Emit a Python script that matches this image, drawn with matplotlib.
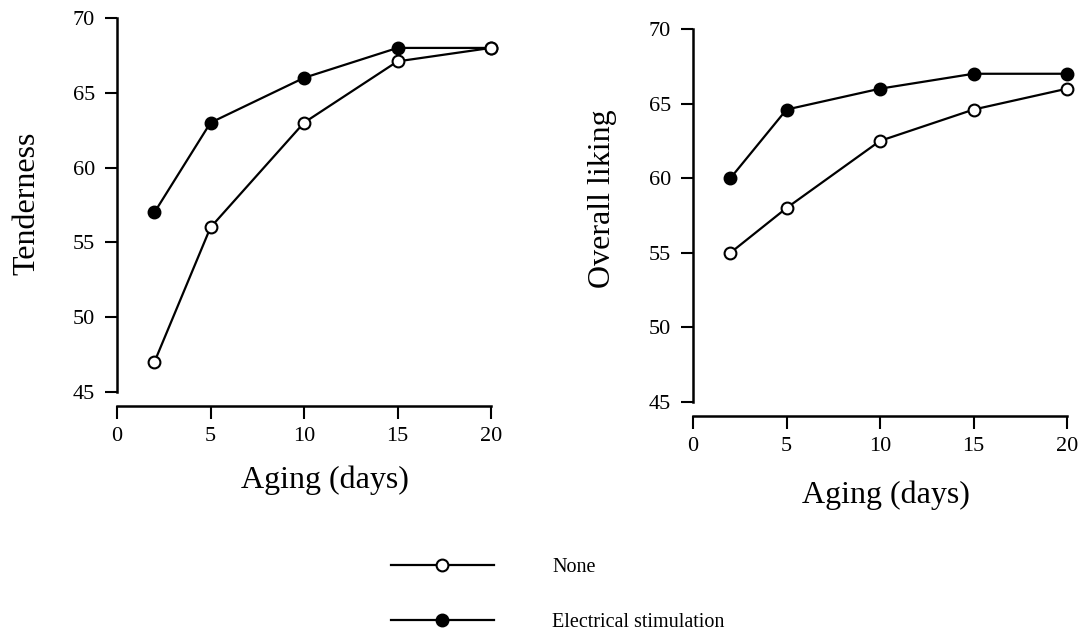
import matplotlib
matplotlib.use('Agg')
import matplotlib.pyplot as plt
from matplotlib.lines import Line2D

plt.rcParams['font.family'] = ['Liberation Serif', 'DejaVu Serif']

days = [2, 5, 10, 15, 20]
tender_none = [47, 56, 63, 67.1, 68]
tender_es = [57, 63, 66, 68, 68]
liking_none = [55, 58, 62.5, 64.6, 66]
liking_es = [60, 64.6, 66, 67, 67]
xticks = [0, 5, 10, 15, 20]
yticks = [45, 50, 55, 60, 65, 70]
series_names = ['None', 'Electrical stimulation']

fig = plt.figure(figsize=(10.79, 6.39), dpi=100)

def panel(rect, none_vals, es_vals, ylabel, xlab_pos, ylab_pos):
    ax = fig.add_axes(rect)
    ax.plot(days, es_vals, '-o', color='black', lw=1.6, ms=8.5,
            mfc='black', mec='black', mew=1.5, clip_on=False, zorder=3)
    ax.plot(days, none_vals, '-o', color='black', lw=1.6, ms=8.5,
            mfc='white', mec='black', mew=1.5, clip_on=False, zorder=4)
    ax.set_xlim(0, 20)
    ax.set_ylim(45, 70)
    ax.set_xticks(xticks)
    ax.set_yticks(yticks)
    for s in ['top', 'right']:
        ax.spines[s].set_visible(False)
    ax.spines['bottom'].set_position(('outward', 10))
    ax.spines['left'].set_linewidth(1.8)
    ax.spines['bottom'].set_linewidth(1.8)
    ax.tick_params(axis='both', length=9, width=1.5, labelsize=16)
    ax.tick_params(axis='y', pad=7)
    ax.tick_params(axis='x', pad=6)
    ax.set_xlabel('Aging (days)', fontsize=23, va='center', ha='center')
    ax.set_ylabel(ylabel, fontsize=23, va='center', ha='center')
    ax.xaxis.set_label_coords(*xlab_pos)
    ax.yaxis.set_label_coords(*ylab_pos)
    ax.patch.set_visible(False)
    return ax

panel([117/1079, 1 - 392/639, 374/1079, 374/639], tender_none, tender_es, 'Tenderness',
      (0.557, -0.235), (-0.241, 0.504))
panel([693/1079, 1 - 402/639, 374/1079, 373/639], liking_none, liking_es, 'Overall liking',
      (0.516, -0.249), (-0.243, 0.546))

handles = [
    Line2D([], [], color='black', lw=1.6, marker='o', ms=8.5, mfc='white', mec='black', mew=1.5),
    Line2D([], [], color='black', lw=1.6, marker='o', ms=8.5, mfc='black', mec='black', mew=1.5),
]
fig.legend(handles, series_names, loc='upper left', bbox_to_anchor=(373/1079, 1 - 540/639),
           frameon=False, fontsize=14.5, handlelength=5.1, handletextpad=2.9,
           labelspacing=1.75, markerscale=1)

fig.savefig('out.png', dpi=100)
